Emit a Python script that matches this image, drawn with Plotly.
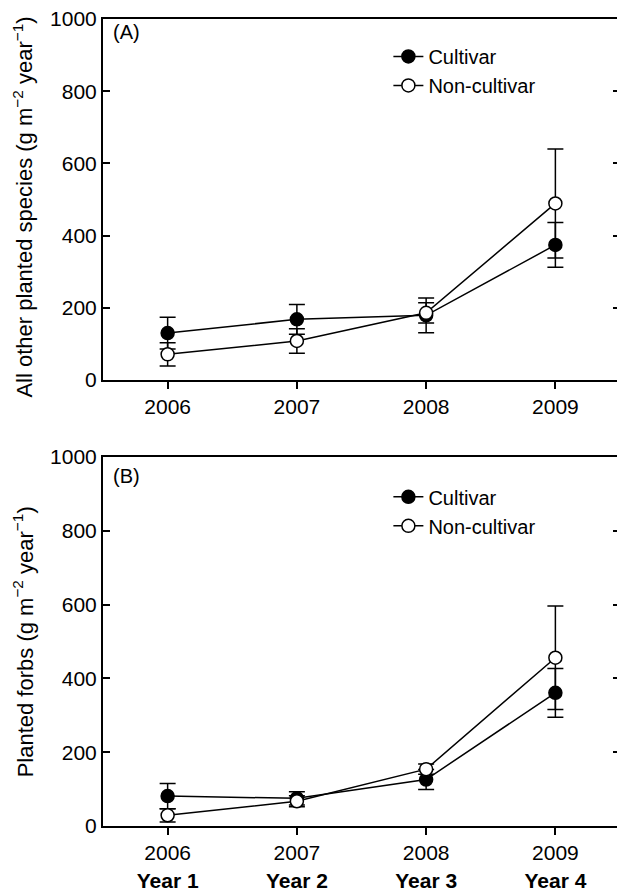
import plotly.graph_objects as go

years = [2006, 2007, 2008, 2009]
year_labels = ["Year 1", "Year 2", "Year 3", "Year 4"]

# Panel A: All other planted species
a_cult = [130, 168, 179, 374]
a_cult_err = [44, 41, 48, 62]
a_non = [71, 108, 186, 489]
a_non_err = [32, 34, 28, 151]

# Panel B: Planted forbs
b_cult = [81, 75, 126, 361]
b_cult_err = [34, 18, 27, 66]
b_non = [29, 67, 154, 456]
b_non_err = [18, 15, 14, 140]

y_ticks = [0, 200, 400, 600, 800, 1000]

title_a = "All other planted species (g m<sup>\u22122</sup> year<sup>\u22121</sup>)"
title_b = "Planted forbs (g m<sup>\u22122</sup> year<sup>\u22121</sup>)"

FONT = "Liberation Sans, Arial, sans-serif"
fig = go.Figure()


def add_series(x, y, err, name, filled, xa, ya, legend):
    fig.add_trace(go.Scatter(
        x=x, y=y, name=name, mode="lines+markers",
        xaxis=xa, yaxis=ya, legend=legend, showlegend=True,
        line=dict(color="black", width=1.5),
        marker=dict(size=13, symbol="circle",
                    color="black" if filled else "white",
                    line=dict(color="black", width=1.5)),
        error_y=dict(type="data", array=err, visible=True,
                     color="black", thickness=1.5, width=8),
    ))


add_series(years, a_cult, a_cult_err, "Cultivar", True, "x", "y", "legend")
add_series(years, a_non, a_non_err, "Non-cultivar", False, "x", "y", "legend")
add_series(years, b_cult, b_cult_err, "Cultivar", True, "x2", "y2", "legend2")
add_series(years, b_non, b_non_err, "Non-cultivar", False, "x2", "y2", "legend2")

axis_common = dict(showline=True, linecolor="black", linewidth=2,
                   showgrid=False, zeroline=False, automargin=False,
                   tickfont=dict(family=FONT, size=21, color="black"))

xa = dict(axis_common, range=[2005.5, 2009.5], tickvals=years,
          ticks="outside", ticklen=7, tickwidth=1.5, tickcolor="black",
          mirror=True)
ya = dict(axis_common, range=[0, 1000], tickvals=y_ticks,
          ticks="inside", ticklen=7, tickwidth=1.5, tickcolor="black",
          mirror="ticks", ticklabeloverflow="allow")

b_ticktext = [f"{y}<br><b>{l}</b>" for y, l in zip(years, year_labels)]

# page body has an 8px margin: figure is sized to fill the remaining window
fig.update_layout(
    width=617, height=884,
    margin=dict(l=95, r=5, t=2, b=66),
    paper_bgcolor="white", plot_bgcolor="white",
    font=dict(family=FONT, size=20, color="black"),
    xaxis=dict(xa, anchor="y", ticktext=[str(y) for y in years]),
    yaxis=dict(ya, anchor="x", domain=[0.5466, 0.989]),
    xaxis2=dict(xa, anchor="y2", ticktext=b_ticktext),
    yaxis2=dict(ya, anchor="x2", domain=[0.0, 0.4522]),
    legend=dict(x=0.552, y=0.967, xanchor="left", yanchor="top",
                bgcolor="rgba(0,0,0,0)", font=dict(family=FONT, size=20),
                tracegroupgap=0),
    legend2=dict(x=0.552, y=0.4273, xanchor="left", yanchor="top",
                 bgcolor="rgba(0,0,0,0)", font=dict(family=FONT, size=20),
                 tracegroupgap=0),
    annotations=[
        dict(text="(A)", xref="x domain", yref="y domain", x=0.015, y=1.0,
             xanchor="left", yanchor="top", showarrow=False,
             font=dict(family=FONT, size=20)),
        dict(text="(B)", xref="x2 domain", yref="y2 domain", x=0.015, y=0.985,
             xanchor="left", yanchor="top", showarrow=False,
             font=dict(family=FONT, size=20)),
        dict(text=title_a, xref="x domain", yref="y domain", x=-0.155, y=0.48,
             xanchor="center", yanchor="middle", textangle=-90, showarrow=False,
             font=dict(family=FONT, size=22)),
        dict(text=title_b, xref="x2 domain", yref="y2 domain", x=-0.155, y=0.5,
             xanchor="center", yanchor="middle", textangle=-90, showarrow=False,
             font=dict(family=FONT, size=22)),
    ],
)

fig.write_html("out.html")
